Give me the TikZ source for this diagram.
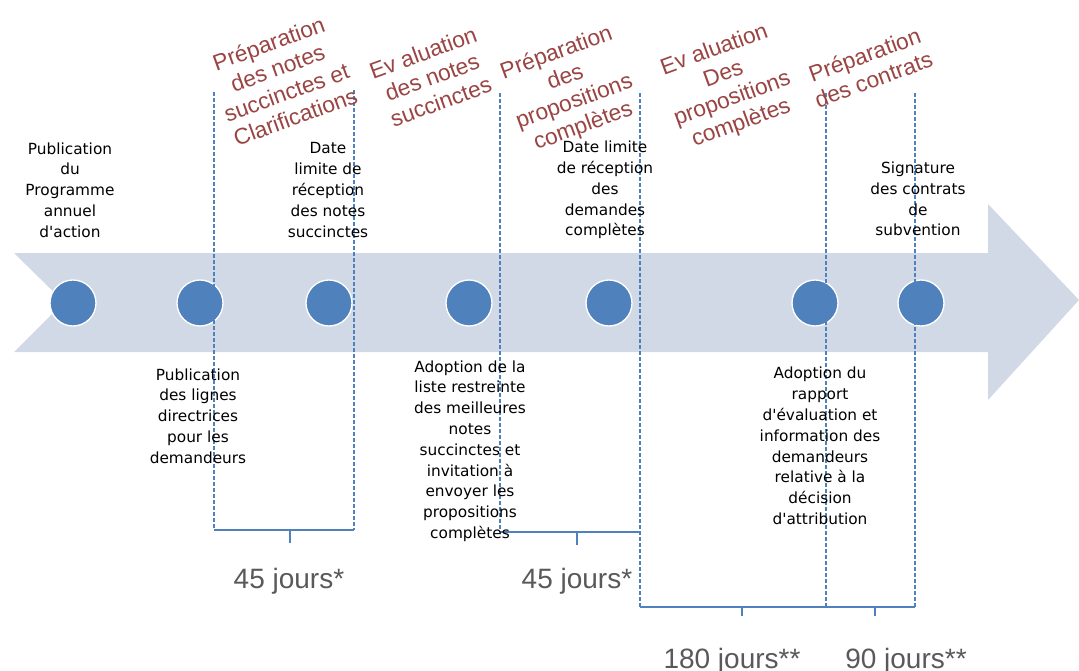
\documentclass[tikz,border=0pt]{standalone}
\usepackage{fontspec}
\setmainfont{Liberation Sans}
\newfontfamily\lblfont{DejaVu Sans}
\definecolor{arrowfill}{HTML}{D2D9E6}
\definecolor{dotblue}{HTML}{4F81BD}
\definecolor{redtxt}{HTML}{9A4543}
\definecolor{graytxt}{HTML}{595959}
\begin{document}
\begin{tikzpicture}[x=0.75pt,y=-0.75pt]
\tikzset{
 dot/.style={circle, fill=dotblue, draw=white, line width=1pt, minimum size=34.5pt, inner sep=0pt},
 guide/.style={draw=dotblue, line width=1.1pt, dash pattern=on 3pt off 1.5pt},
 brack/.style={draw=dotblue, line width=1.4pt},
 phase/.style={text=redtxt, font=\fontsize{17}{19.5}\selectfont, align=center, rotate=20, inner sep=0pt},
 event/.style={text=black, font=\lblfont\fontsize{11.5}{15.6}\selectfont, align=center, inner sep=0pt},
 days/.style={text=graytxt, font=\fontsize{21}{25}\selectfont, anchor=base, inner sep=0pt},
}
\useasboundingbox (0,0) rectangle (1079,671);
\fill[white] (0,0) rectangle (1079,671);
% big arrow
\fill[arrowfill] (14,253) -- (988,253) -- (988,204) -- (1079,300) -- (988,400) -- (988,352) -- (14,352) -- (64,302) -- cycle;
% milestones
\node[dot] (c1) at (73,303) {};
\node[dot] (c2) at (200,303) {};
\node[dot] (c3) at (329,303) {};
\node[dot] (c4) at (469,303) {};
\node[dot] (c5) at (609,303) {};
\node[dot] (c6) at (815,303) {};
\node[dot] (c7) at (921,303) {};
% guide coordinates
\coordinate (g1t) at (214,92);  \coordinate (g1b) at (214,530);
\coordinate (g2t) at (354,90);  \coordinate (g2b) at (354,530);
\coordinate (g3t) at (500,93);  \coordinate (g3b) at (500,532);
\coordinate (g4t) at (640,93);  \coordinate (g4m) at (640,532); \coordinate (g4b) at (640,607);
\coordinate (g5t) at (826,93);  \coordinate (g5b) at (826,607);
\coordinate (g6t) at (915,93);  \coordinate (g6b) at (915,607);
\draw[guide] (g1t) -- (g1b);
\draw[guide] (g2t) -- (g2b);
\draw[guide] (g3t) -- (g3b);
\draw[guide] (g4t) -- (g4b);
\draw[guide] (g5t) -- (g5b);
\draw[guide] (g6t) -- (g6b);
% brackets
\coordinate (k1) at (290,530); \coordinate (k1e) at (290,543);
\coordinate (k2) at (577,532); \coordinate (k2e) at (577,545);
\coordinate (k3) at (742,607); \coordinate (k3e) at (742,616);
\coordinate (k4) at (875,607); \coordinate (k4e) at (875,616);
\draw[brack] (g1b) -- (g2b);
\draw[brack] (k1) -- (k1e);
\draw[brack] (g3b) -- (g4m);
\draw[brack] (k2) -- (k2e);
\draw[brack] (g4b) -- (g6b);
\draw[brack] (k3) -- (k3e);
\draw[brack] (k4) -- (k4e);
% durations
\node[days] (d1) at (289,588) {45 jours*};
\node[days] (d2) at (577,588) {45 jours*};
\node[days] (d3) at (732,668) {180 jours**};
\node[days] (d4) at (906,668) {90 jours**};
% events above
\node[event] (e1) at (70,190) {Publication\\du\\Programme\\annuel\\d'action};
\node[event] (e2) at (328,190) {Date\\limite de\\réception\\des notes\\succinctes};
\node[event] (e3) at (605,190) {Date limite\\de réception\\des\\demandes\\complètes};
\node[event] (e4) at (918,199) {Signature\\des contrats\\de\\subvention};
% events below
\node[event] (e5) at (198,416) {Publication\\des lignes\\directrices\\pour les\\demandeurs};
\node[event] (e6) at (470,451) {Adoption de la\\liste restreinte\\des meilleures\\notes\\succinctes et\\invitation à\\envoyer les\\propositions\\complètes};
\node[event] (e7) at (820,446) {Adoption du\\rapport\\d'évaluation et\\information des\\demandeurs\\relative à la\\décision\\d'attribution};
% phases
\node[phase] (p1) at (282,80) {Préparation\\des notes\\succinctes et\\Clarifications};
\node[phase] (p2) at (432,77) {Ev aluation\\des notes\\succinctes};
\node[phase] (p3) at (570,90) {Préparation\\des\\propositions\\complètes};
\node[phase] (p4) at (728,87) {Ev aluation\\Des\\propositions\\complètes};
\node[phase] (p5) at (869,67) {Préparation\\des contrats};
\end{tikzpicture}
\end{document}
